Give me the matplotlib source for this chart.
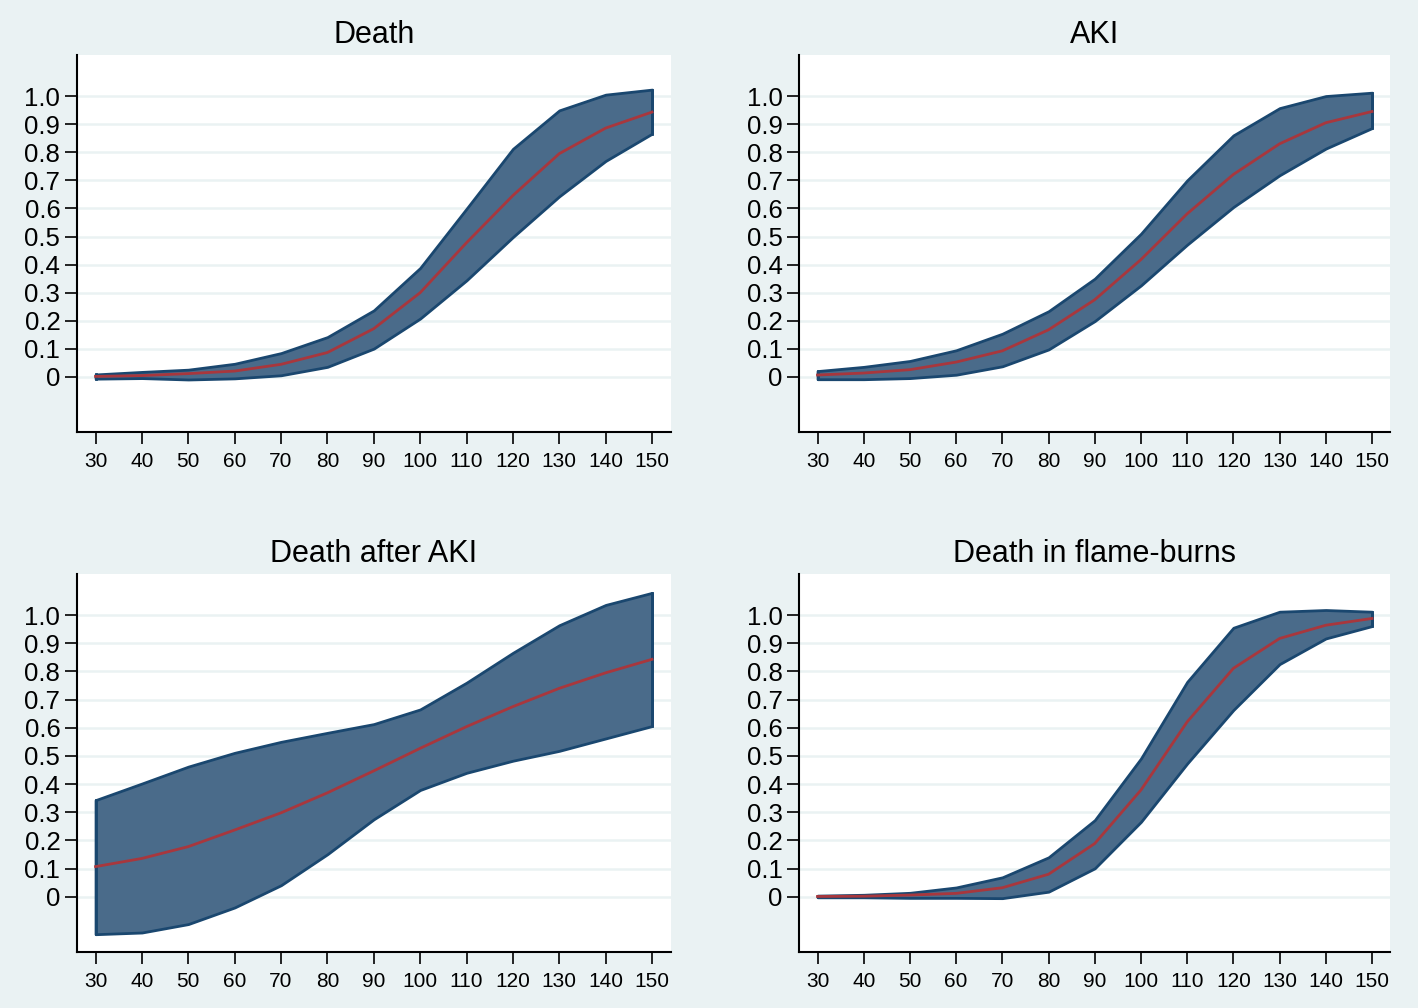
import numpy as np
import matplotlib
matplotlib.use("Agg")
import matplotlib.pyplot as plt

plt.rcParams["font.family"] = ["Liberation Sans", "DejaVu Sans"]

x = [30, 40, 50, 60, 70, 80, 90, 100, 110, 120, 130, 140, 150]

# Death
death_mid = [0.002, 0.005, 0.012, 0.021, 0.045, 0.087, 0.172, 0.300, 0.478, 0.646, 0.795, 0.886, 0.943]
death_hi = [0.009, 0.018, 0.026, 0.047, 0.085, 0.142, 0.237, 0.388, 0.599, 0.812, 0.949, 1.005, 1.023]
death_lo = [-0.006, -0.004, -0.009, -0.005, 0.006, 0.036, 0.101, 0.208, 0.344, 0.498, 0.643, 0.769, 0.866]

# AKI
aki_mid = [0.007, 0.014, 0.026, 0.053, 0.093, 0.168, 0.275, 0.418, 0.581, 0.721, 0.830, 0.905, 0.945]
aki_hi = [0.021, 0.036, 0.057, 0.095, 0.154, 0.234, 0.350, 0.510, 0.700, 0.860, 0.957, 1.000, 1.012]
aki_lo = [-0.008, -0.008, -0.004, 0.008, 0.038, 0.098, 0.199, 0.326, 0.471, 0.605, 0.718, 0.813, 0.886]

# Death after AKI
dafter_mid = [0.107, 0.136, 0.178, 0.237, 0.298, 0.369, 0.447, 0.527, 0.604, 0.675, 0.740, 0.795, 0.843]
dafter_hi = [0.343, 0.402, 0.462, 0.511, 0.550, 0.582, 0.613, 0.665, 0.760, 0.866, 0.964, 1.036, 1.079]
dafter_lo = [-0.133, -0.127, -0.097, -0.038, 0.041, 0.151, 0.275, 0.379, 0.440, 0.483, 0.518, 0.562, 0.606]

# Death in flame-burns
flame_mid = [0.001, 0.002, 0.006, 0.012, 0.032, 0.080, 0.189, 0.379, 0.621, 0.811, 0.917, 0.964, 0.988]
flame_hi = [0.004, 0.007, 0.014, 0.033, 0.069, 0.140, 0.272, 0.491, 0.763, 0.955, 1.012, 1.018, 1.012]
flame_lo = [-0.002, -0.002, -0.004, -0.004, -0.005, 0.018, 0.101, 0.266, 0.473, 0.663, 0.826, 0.917, 0.961]

titles = ["Death", "AKI", "Death after AKI", "Death in flame-burns"]
panels = [
    (death_lo, death_mid, death_hi),
    (aki_lo, aki_mid, aki_hi),
    (dafter_lo, dafter_mid, dafter_hi),
    (flame_lo, flame_mid, flame_hi),
]

yticks = [0, 0.1, 0.2, 0.3, 0.4, 0.5, 0.6, 0.7, 0.8, 0.9, 1.0]
ylabels = ["0", "0.1", "0.2", "0.3", "0.4", "0.5", "0.6", "0.7", "0.8", "0.9", "1.0"]

bg = "#EAF2F3"
fill_c = "#4A6B8A"
edge_c = "#1A476F"
line_c = "#A8373D"

fig = plt.figure(figsize=(14.18, 10.08), dpi=100, facecolor=bg)

positions = [
    [0.0543, 0.5714, 0.4186, 0.374],
    [0.5635, 0.5714, 0.4171, 0.374],
    [0.0543, 0.0556, 0.4186, 0.375],
    [0.5635, 0.0556, 0.4171, 0.375],
]

for pos, title, (lo, mid, hi) in zip(positions, titles, panels):
    ax = fig.add_axes(pos)
    ax.set_facecolor("white")
    ax.fill_between(x, lo, hi, facecolor=fill_c, edgecolor=edge_c, linewidth=2, zorder=2)
    # close the band ends like Stata's rarea outline
    ax.plot([x[0], x[0]], [lo[0], hi[0]], color=edge_c, lw=2, zorder=3)
    ax.plot([x[-1], x[-1]], [lo[-1], hi[-1]], color=edge_c, lw=2, zorder=3)
    ax.plot(x, mid, color=line_c, lw=2, zorder=4)

    ax.set_xlim(26, 154)
    ax.set_ylim(-0.196, 1.146)
    ax.set_xticks(x)
    ax.set_xticklabels([str(v) for v in x], fontsize=15)
    ax.set_yticks(yticks)
    ax.set_yticklabels(ylabels, fontsize=18.5)
    ax.tick_params(axis="x", length=8.5, width=1.2, pad=6)
    ax.tick_params(axis="y", length=8.5, width=1.2, pad=3.5)
    ax.grid(axis="y", color=bg, linewidth=1.8, zorder=0)
    ax.set_axisbelow(True)
    for s in ["top", "right"]:
        ax.spines[s].set_visible(False)
    for s in ["left", "bottom"]:
        ax.spines[s].set_linewidth(1.5)
    ax.set_title(title, fontsize=22, pad=8.5)

fig.savefig("out.png", dpi=100, facecolor=bg)
